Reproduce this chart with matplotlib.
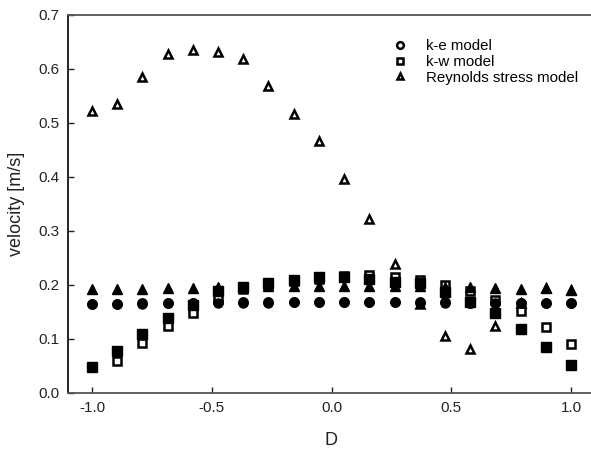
import matplotlib
matplotlib.use("Agg")
import matplotlib.pyplot as plt

plt.rcParams['font.family'] = ['Liberation Sans', 'DejaVu Sans']

D = [-1.0, -0.895, -0.789, -0.684, -0.579, -0.474, -0.368, -0.263, -0.158, -0.053,
     0.053, 0.158, 0.263, 0.368, 0.474, 0.579, 0.684, 0.789, 0.895, 1.0]

ke_open = [0.165, 0.165, 0.166, 0.167, 0.167, 0.168, 0.168, 0.168, 0.169, 0.169,
           0.169, 0.169, 0.169, 0.168, 0.168, 0.167, 0.167, 0.166, 0.166, 0.166]
kw_open = [0.048, 0.059, 0.092, 0.124, 0.149, 0.175, 0.192, 0.200, 0.207, 0.212,
           0.216, 0.218, 0.215, 0.210, 0.200, 0.188, 0.172, 0.151, 0.123, 0.091]
rsm_open = [0.522, 0.536, 0.585, 0.628, 0.636, 0.631, 0.619, 0.569, 0.517, 0.467,
            0.396, 0.322, 0.238, 0.165, 0.106, 0.081, 0.125, 0.166, 0.195, 0.191]

ke_fill = [0.165, 0.165, 0.165, 0.166, 0.166, 0.167, 0.167, 0.167, 0.168, 0.168,
           0.168, 0.168, 0.168, 0.167, 0.167, 0.167, 0.167, 0.166, 0.166, 0.166]
kw_fill = [0.048, 0.078, 0.109, 0.139, 0.163, 0.188, 0.197, 0.204, 0.210, 0.214,
           0.215, 0.212, 0.206, 0.204, 0.187, 0.168, 0.148, 0.118, 0.085, 0.051]
rsm_fill = [0.192, 0.192, 0.193, 0.194, 0.195, 0.196, 0.197, 0.198, 0.199, 0.199,
            0.199, 0.199, 0.199, 0.198, 0.197, 0.197, 0.194, 0.193, 0.195, 0.191]

labels = ['k-e model', 'k-w model', 'Reynolds stress model']

fig = plt.figure(figsize=(5.91, 4.54), dpi=100)
ax = fig.add_axes([68/591, 61/454, (595-68)/591, (393-15)/454])

ms = 6
mew = 1.8
# open series first, filled series drawn over them
ax.plot(D, ke_open, 'o', mfc='white', mec='black', mew=mew, ms=ms, zorder=3, label=labels[0])
ax.plot(D, kw_open, 's', mfc='white', mec='black', mew=mew, ms=ms, zorder=3, label=labels[1])
ax.plot(D, rsm_open, '^', mfc='white', mec='black', mew=mew, ms=ms, zorder=3, label=labels[2])
ax.plot(D, ke_fill, 'o', color='black', ms=ms + 0.5, zorder=4)
ax.plot(D, kw_fill, 's', color='black', ms=ms + 0.5, zorder=4)
ax.plot(D, rsm_fill, '^', color='black', ms=ms + 0.5, zorder=4)

ax.set_xlim(-1.1, 1.1)
ax.set_ylim(0, 0.7)
ax.set_xticks([-1.0, -0.5, 0.0, 0.5, 1.0])
ax.set_xticklabels(['-1.0', '-0.5', '0.0', '0.5', '1.0'])
ax.set_yticks([0.0, 0.1, 0.2, 0.3, 0.4, 0.5, 0.6, 0.7])
ax.set_yticklabels(['0.0', '0.1', '0.2', '0.3', '0.4', '0.5', '0.6', '0.7'])
ax.tick_params(direction='in', length=4, width=1, labelsize=11, colors='#222222', pad=6)

ax.spines['right'].set_visible(False)
ax.spines['left'].set_color('black')
ax.spines['left'].set_linewidth(1.2)
for s in ['top', 'bottom']:
    ax.spines[s].set_color('#555555')
    ax.spines[s].set_linewidth(1.3)

ax.set_xlabel('D', fontsize=13, color='#222222', labelpad=12)
ax.set_ylabel('velocity [m/s]', fontsize=13, color='#222222', labelpad=10)

leg = ax.legend(loc='upper left', bbox_to_anchor=(0.576, 0.972), frameon=False,
                fontsize=10.8, handletextpad=0.7, labelspacing=0.12, markerscale=0.8)

fig.savefig('out.png', dpi=100)
